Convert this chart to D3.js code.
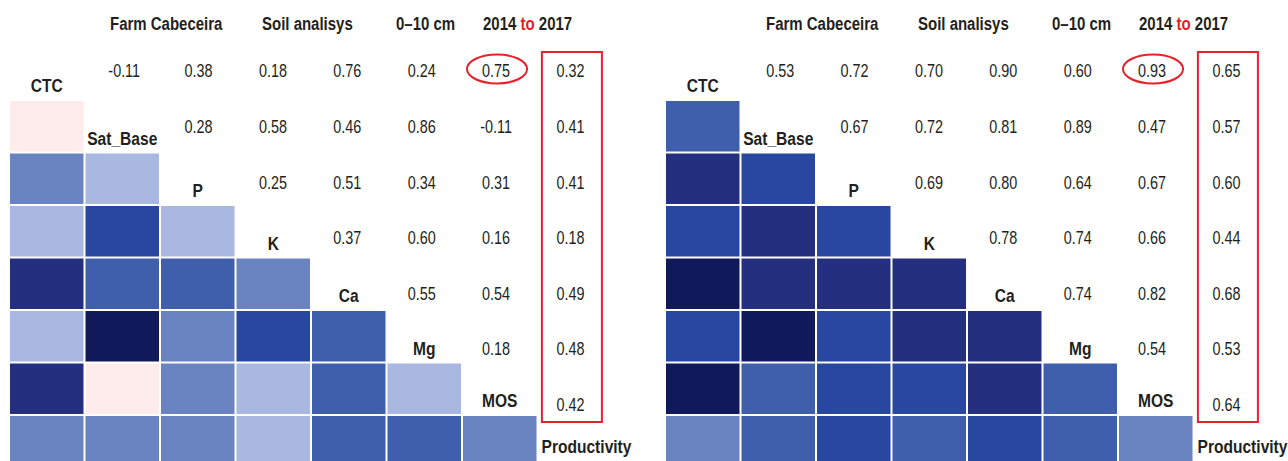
<!DOCTYPE html>
<html><head><meta charset="utf-8">
<script src="https://cdn.jsdelivr.net/npm/d3@7"></script>
<style>
html,body{margin:0;padding:0;background:#fff;}
svg{display:block;}
text{font-family:"Liberation Sans",Arial,sans-serif;}
</style></head><body>
<svg id="chart" width="1288" height="461"></svg>
<script>
// ---- data ----
const variables = ["CTC", "Sat_Base", "P", "K", "Ca", "Mg", "MOS", "Productivity"];
const titleParts = ["Farm Cabeceira", "Soil analisys", "0–10 cm"];
const periodStart = "2014", periodJoin = "to", periodEnd = "2017";

// upper triangle: row i, columns i+1 .. 7
const leftUpper = [
  [-0.11, 0.38, 0.18, 0.76, 0.24, 0.75, 0.32],
  [0.28, 0.58, 0.46, 0.86, -0.11, 0.41],
  [0.25, 0.51, 0.34, 0.31, 0.41],
  [0.37, 0.60, 0.16, 0.18],
  [0.55, 0.54, 0.49],
  [0.18, 0.48],
  [0.42]
];
// lower triangle colour values: row i, columns 0 .. i-1
const leftLower = [
  [],
  [-0.11],
  [0.38, 0.28],
  [0.18, 0.58, 0.25],
  [0.76, 0.46, 0.51, 0.37],
  [0.24, 0.86, 0.34, 0.60, 0.55],
  [0.75, -0.11, 0.31, 0.16, 0.54, 0.18],
  [0.32, 0.41, 0.41, 0.18, 0.49, 0.48, 0.42]
];
const rightUpper = [
  [0.53, 0.72, 0.70, 0.90, 0.60, 0.93, 0.65],
  [0.67, 0.72, 0.81, 0.89, 0.47, 0.57],
  [0.69, 0.80, 0.64, 0.67, 0.60],
  [0.78, 0.74, 0.66, 0.44],
  [0.74, 0.82, 0.68],
  [0.54, 0.53],
  [0.64]
];
const rightLower = [
  [],
  [0.53],
  [0.72, 0.67],
  [0.70, 0.72, 0.69],
  [0.90, 0.81, 0.80, 0.78],
  [0.60, 0.89, 0.64, 0.74, 0.74],
  [0.93, 0.47, 0.67, 0.66, 0.82, 0.54],
  [0.40, 0.50, 0.60, 0.50, 0.65, 0.53, 0.40]
];
const colorBreaks = [0, 0.29, 0.45, 0.555, 0.705, 0.85];
const colorSteps = ["#fdeceb", "#a9b8e0", "#6a83c1", "#3f5eab", "#2847a0", "#242f7f", "#101a5b"];
const circledCell = {row: 0, col: 6};
const boxedColumn = 7;

// ---- drawing ----
const svg = d3.select("#chart");
const color = d3.scaleThreshold().domain(colorBreaks).range(colorSteps);
const fmt = v => (v < 0 ? "-" : "") + Math.abs(v).toFixed(2);
const n = variables.length;
const idx = d3.range(n);
const place = (px, py, k) => `translate(${px},${py}) scale(${k},1)`;

function panel(ox, upper, lower) {
  const g = svg.append("g");
  const stepX = 75.5, stepY = 52.5;
  const x = d3.scaleBand().domain(idx).range([ox, ox + n * stepX]).paddingInner(2 / stepX).paddingOuter(1 / stepX);
  const y = d3.scaleBand().domain(idx).range([47.5, 47.5 + n * stepY]).paddingInner(2 / stepY).paddingOuter(1 / stepY);
  const xNum = d3.scaleLinear().domain([1, 7]).range([ox + 115.2, ox + 561.4]);
  const yNum = d3.scaleLinear().domain([0, 6]).range([71, 404.6]);
  const cx = j => x(j) + x.bandwidth() / 2;

  // titles
  const tOff = [101, 253, 387, 474];
  const tg = g.append("g").attr("font-weight", "bold").attr("font-size", 18.5).attr("fill", "#231f20");
  titleParts.forEach((t, i) => tg.append("text").attr("transform", place(ox + tOff[i], 29.5, 0.81)).text(t));
  const last = tg.append("text").attr("transform", place(ox + tOff[3], 29.5, 0.81));
  last.append("tspan").text(periodStart + " ");
  last.append("tspan").attr("fill", "#e31e24").text(periodJoin);
  last.append("tspan").text(" " + periodEnd);

  // lower-triangle cells
  const cells = [];
  lower.forEach((row, i) => row.forEach((v, j) => cells.push({i, j, v})));
  g.append("g").selectAll("rect").data(cells).join("rect")
    .attr("x", d => x(d.j)).attr("y", d => y(d.i))
    .attr("width", x.bandwidth()).attr("height", y.bandwidth())
    .attr("fill", d => color(d.v));

  // numbers
  const nums = [];
  upper.forEach((row, i) => row.forEach((v, k) => nums.push({i, j: i + 1 + k, v})));
  g.append("g").attr("font-size", 18).attr("fill", "#231f20").attr("text-anchor", "middle")
    .selectAll("text").data(nums).join("text")
    .attr("transform", d => place(xNum(d.j), yNum(d.i), 0.8)).attr("dy", "0.36em")
    .text(d => fmt(d.v));

  // diagonal labels
  g.append("g").attr("font-size", 19).attr("font-weight", "bold").attr("fill", "#231f20")
    .selectAll("text").data(variables).join("text")
    .attr("text-anchor", (d, i) => i === n - 1 ? "start" : "middle")
    .attr("transform", (d, i) => i === n - 1
      ? place(x(i) + 3, y(i) + 30, 0.82)
      : place(cx(i), y(i) + 37, 0.82))
    .attr("dy", "0.36em")
    .text(d => d);

  // highlights
  g.append("ellipse")
    .attr("cx", xNum(circledCell.col) + 1).attr("cy", yNum(circledCell.row) - 2)
    .attr("rx", 30).attr("ry", 14.5)
    .attr("fill", "none").attr("stroke", "#e8202a").attr("stroke-width", 2);
  g.append("rect")
    .attr("x", xNum(boxedColumn) + 1.5 - 30).attr("y", 52)
    .attr("width", 60).attr("height", 370)
    .attr("fill", "none").attr("stroke", "#e8202a").attr("stroke-width", 2);
}

panel(9, leftUpper, leftLower);
panel(665, rightUpper, rightLower);
</script>
</body></html>
